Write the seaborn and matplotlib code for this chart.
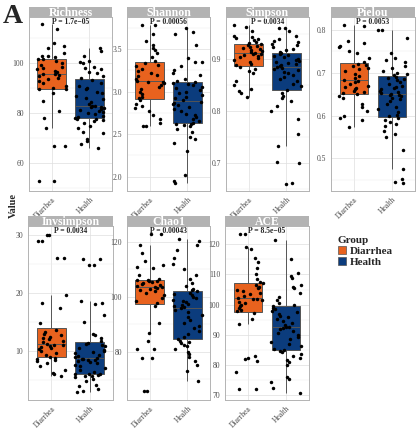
import numpy as np
import pandas as pd
import seaborn as sns
import matplotlib.pyplot as plt
from matplotlib.patches import Patch
from matplotlib.ticker import FixedLocator, AutoMinorLocator

groups = ['Diarrhea', 'Health']
colors = ['#E8621E', '#0B3C7D']

# values (Diarrhea n=40, Health n=52)
richness_diarrhea = [53, 53, 67, 67, 74, 78, 81, 85, 88, 89.5,
                     89.7, 90.2, 91, 92, 92.8, 93.5, 94, 94.8, 95.3, 95.6,
                     95.8, 96.3, 97, 97.6, 98, 98.5, 99.2, 100, 100.8, 101.5,
                     101.7, 102.5, 103, 103, 104, 106, 107, 108, 113.6, 115.6]
richness_health = [66, 67.5, 69, 69.5, 72, 72.5, 74, 75, 76, 77, 77.3, 77.6, 77.8,
                   78.1, 78.5, 79, 79.5, 80, 80.5, 81, 81.3, 81.8, 82, 82.3, 82.5, 82.7,
                   82.9, 83.5, 84.5, 85.5, 86, 87, 88, 88.5, 89.5, 90, 91, 92, 93.4,
                   94.2, 95, 96, 96.5, 97.5, 98, 98.5, 100, 100.5, 101, 103, 105, 106]

shannon_diarrhea = [2.59, 2.6, 2.63, 2.68, 2.73, 2.77, 2.81, 2.83, 2.86, 2.9,
                    2.92, 2.94, 2.97, 3.0, 3.03, 3.06, 3.08, 3.1, 3.11, 3.12,
                    3.13, 3.15, 3.18, 3.2, 3.22, 3.24, 3.27, 3.3, 3.32, 3.34,
                    3.36, 3.41, 3.45, 3.49, 3.52, 3.55, 3.6, 3.68, 3.78, 3.79]
shannon_health = [1.93, 1.95, 2.02, 2.3, 2.4, 2.44, 2.47, 2.52, 2.56, 2.6, 2.61, 2.62, 2.625,
                  2.635, 2.65, 2.68, 2.7, 2.72, 2.74, 2.77, 2.8, 2.82, 2.84, 2.86, 2.87, 2.88,
                  2.9, 2.92, 2.94, 2.96, 2.98, 3.0, 3.02, 3.04, 3.06, 3.08, 3.09, 3.1, 3.115,
                  3.125, 3.15, 3.2, 3.22, 3.25, 3.3, 3.35, 3.35, 3.4, 3.55, 3.68, 3.7, 3.75]

simpson_diarrhea = [.827, .836, .840, .843, .851, .858, .874, .878, .882, .886,
                    .889, .892, .896, .899, .902, .905, .907, .909, .910, .911,
                    .913, .915, .917, .919, .921, .923, .925, .926, .928, .929,
                    .931, .934, .937, .940, .942, .944, .946, .955, .962, .966]
simpson_health = [.660, .661, .701, .702, .733, .757, .785, .800, .810, .820, .825, .830, .836,
                  .842, .848, .853, .858, .862, .866, .870, .873, .876, .879, .881, .883, .885,
                  .887, .889, .891, .893, .895, .897, .899, .901, .904, .906, .908, .910, .912,
                  .915, .918, .921, .924, .927, .930, .933, .936, .940, .945, .955, .960, .960]

pielou_diarrhea = [.573, .590, .595, .600, .610, .620, .628, .640, .645, .650,
                   .652, .655, .658, .661, .664, .667, .670, .674, .678, .681,
                   .683, .687, .692, .697, .703, .708, .712, .715, .718, .721,
                   .725, .735, .745, .750, .760, .763, .770, .775, .810, .812]
pielou_health = [.442, .445, .452, .475, .520, .550, .556, .565, .575, .580, .585, .590, .594,
                 .598, .602, .608, .615, .620, .627, .633, .638, .642, .645, .647, .649, .650,
                 .652, .655, .658, .661, .664, .667, .670, .674, .678, .682, .685, .688, .691,
                 .694, .697, .700, .705, .710, .715, .725, .730, .735, .745, .780, .800, .800]

invsimpson_diarrhea = [5.7, 6.0, 6.3, 6.8, 7.5, 8.0, 8.3, 8.5, 8.7, 8.8,
                       9.0, 9.3, 9.6, 10.0, 10.3, 10.5, 10.7, 10.9, 11.0, 11.1,
                       11.2, 11.5, 11.8, 12.0, 12.2, 12.5, 12.7, 13.0, 13.3, 13.6,
                       14.8, 17.4, 18.3, 19.6, 26, 26, 29, 29, 30, 30]
invsimpson_health = [2.9, 3.2, 3.5, 4.0, 4.2, 4.8, 5.2, 5.5, 5.7, 5.8, 5.9, 6.0, 6.02,
                     6.1, 6.4, 6.8, 7.1, 7.4, 7.7, 7.9, 8.1, 8.3, 8.45, 8.55, 8.65, 8.7,
                     8.8, 9.0, 9.2, 9.4, 9.6, 9.8, 10.0, 10.2, 10.5, 10.8, 11.0, 11.2, 11.4,
                     11.8, 12.3, 12.8, 13.0, 15.0, 16.2, 18.1, 18.3, 18.6, 24.8, 24.8, 25.9, 25.9]

chao1_diarrhea = [65.5, 65.5, 77.6, 77.6, 81, 81, 84, 86.7, 90.5, 96.5,
                  97.9, 98.5, 99.5, 100.5, 101.5, 102, 102.5, 103, 103.3, 103.5,
                  103.7, 104, 104.3, 104.6, 105, 105.3, 105.6, 105.8, 106, 106.2,
                  106.6, 108, 110.5, 111, 111.5, 113, 116, 119, 123, 123]
chao1_health = [69.4, 73.1, 75, 76.5, 78, 79, 80, 81, 82, 82.5, 83, 83.5, 84,
                84.6, 85.5, 86.5, 87.5, 88.5, 89.5, 90.5, 91.5, 92.5, 93.5, 94.5, 95.3, 95.8,
                96.2, 96.6, 97, 97.5, 98, 98.5, 99, 99.5, 100, 100.5, 101, 101.5, 102,
                102.5, 103, 104, 105, 106.5, 108, 110, 112, 114, 117, 119, 120.5, 121]

ace_diarrhea = [72, 72, 77.8, 81.5, 82, 82.5, 83, 93.7, 95.3, 97.2,
                97.9, 98.3, 99, 99.5, 100, 100.5, 101, 101.4, 101.8, 102,
                102.2, 102.8, 103.5, 104, 104.5, 105, 105.5, 106, 106.5, 107,
                107.4, 108.5, 110, 112, 114, 115.5, 118.5, 119.1, 123.5, 123.5]
ace_health = [70.7, 72.5, 74.5, 75.5, 76, 80, 81, 81.8, 82.5, 83, 83.6, 84.2, 84.6,
              85, 85.5, 86.2, 87, 87.8, 88.5, 89.2, 90, 90.6, 91.2, 91.8, 92.2, 92.5,
              92.7, 93.3, 94, 94.6, 95.2, 95.8, 96.4, 97, 97.5, 98, 98.5, 99, 99.4,
              99.8, 100.5, 101.5, 102.5, 104, 105.5, 106, 106.5, 108.8, 109.5, 110.5, 115, 121.3]

metrics = ['Richness', 'Shannon', 'Simpson', 'Pielou', 'Invsimpson', 'Chao1', 'ACE']
p_labels = ['P = 1.7e\u221205', 'P = 0.00056', 'P = 0.0034', 'P = 0.0053',
            'P = 0.0034', 'P = 0.00043', 'P = 8.5e\u221205']
values = {
    'Richness': (richness_diarrhea, richness_health),
    'Shannon': (shannon_diarrhea, shannon_health),
    'Simpson': (simpson_diarrhea, simpson_health),
    'Pielou': (pielou_diarrhea, pielou_health),
    'Invsimpson': (invsimpson_diarrhea, invsimpson_health),
    'Chao1': (chao1_diarrhea, chao1_health),
    'ACE': (ace_diarrhea, ace_health),
}
y_ticks = {
    'Richness': [60, 80, 100],
    'Shannon': [2.0, 2.5, 3.0, 3.5],
    'Simpson': [0.7, 0.8, 0.9],
    'Pielou': [0.5, 0.6, 0.7, 0.8],
    'Invsimpson': [10, 20, 30],
    'Chao1': [80, 100, 120],
    'ACE': [70, 80, 90, 100, 110, 120],
}
y_lims = {
    'Richness': (48.8, 118.4),
    'Shannon': (1.83, 3.88),
    'Simpson': (0.646, 0.982),
    'Pielou': (0.424, 0.830),
    'Invsimpson': (1.6, 31.5),
    'Chao1': (62.4, 125.8),
    'ACE': (68.5, 126.0),
}

rows = []
for m in metrics:
    for g, vals in zip(groups, values[m]):
        for v in vals:
            rows.append((m, g, v))
df = pd.DataFrame(rows, columns=['Index', 'Group', 'Value'])

sns.set_style('white')
plt.rcParams['font.family'] = ['Liberation Serif', 'DejaVu Serif']

W, H = 420, 428
fig = plt.figure(figsize=(W / 100, H / 100), dpi=100)

# panel boxes in pixels: left, top, right, bottom
panels = [(29, 17, 112, 191), (127, 17, 210, 191), (226, 17, 309, 191), (331, 17, 415, 191),
          (28, 226, 113, 400), (127, 226, 210, 400), (225, 226, 309, 400)]
strip_h = 10
grey70 = '#B3B3B3'

for i, m in enumerate(metrics):
    l, t, r, b = panels[i]
    ax = fig.add_axes([l / W, 1 - b / H, (r - l) / W, (b - t) / H])
    sub = df[df['Index'] == m]
    sns.boxplot(data=sub, x='Group', y='Value', hue='Group', order=groups,
                hue_order=groups, palette=colors, saturation=1, width=0.75,
                showfliers=False, showcaps=False, linecolor='#555555',
                linewidth=0.7, legend=False, ax=ax, zorder=2)
    sns.stripplot(data=sub, x='Group', y='Value', order=groups, color='black',
                  size=2.5, jitter=0.4, ax=ax, zorder=3)
    ax.set_xlim(-0.6, 1.6)
    ax.set_ylim(*y_lims[m])
    ax.yaxis.set_major_locator(FixedLocator(y_ticks[m]))
    ax.yaxis.set_minor_locator(AutoMinorLocator(2))
    ax.set_yticklabels([('%g' % v) if m not in ('Shannon', 'Simpson', 'Pielou')
                        else '%.1f' % v for v in y_ticks[m]])
    ax.grid(True, which='major', color='#DEDEDE', lw=0.5)
    ax.grid(True, which='minor', axis='y', color='#EDEDED', lw=0.35)
    ax.set_axisbelow(True)
    for s in ax.spines.values():
        s.set_color(grey70)
        s.set_linewidth(0.7)
    ax.tick_params(axis='both', which='major', length=2, width=0.5, color=grey70,
                   labelsize=5.5, labelcolor='#4D4D4D', pad=1.5)
    ax.tick_params(axis='y', which='minor', length=0)
    plt.setp(ax.get_xticklabels(), rotation=45, ha='right', rotation_mode='anchor')
    ax.set_xlabel('')
    ax.set_ylabel('')
    ax.text(0.5, 0.995, p_labels[i], transform=ax.get_xaxis_transform(),
            ha='center', va='top', fontsize=5.5, fontweight='bold')

    sax = fig.add_axes([l / W, 1 - t / H, (r - l) / W, strip_h / H])
    sax.set_facecolor(grey70)
    sax.set_xticks([])
    sax.set_yticks([])
    for s in sax.spines.values():
        s.set_visible(False)
    sax.text(0.5, 0.42, m, ha='center', va='center', color='white',
             fontsize=8.5, fontweight='bold', transform=sax.transAxes)

fig.text(3 / W, 1 - 4 / H, 'A', fontsize=20, fontweight='bold', va='top', ha='left')
fig.text(13 / W, 1 - 206 / H, 'Value', fontsize=7.5, fontweight='bold',
         rotation=90, ha='center', va='center')

handles = [Patch(facecolor=c, edgecolor='#555555', linewidth=0.5) for c in colors]
leg = fig.legend(handles, groups, title='Group', loc='upper left',
                 bbox_to_anchor=(330 / W, 1 - 228 / H), frameon=False,
                 prop={'size': 8, 'weight': 'bold'}, handlelength=0.7,
                 handleheight=0.7, handletextpad=0.4, labelspacing=0.1,
                 borderpad=0.2)
leg.get_title().set_fontweight('bold')
leg.get_title().set_fontsize(8)
leg._legend_box.align = 'left'

fig.savefig('out.png', dpi=100)
